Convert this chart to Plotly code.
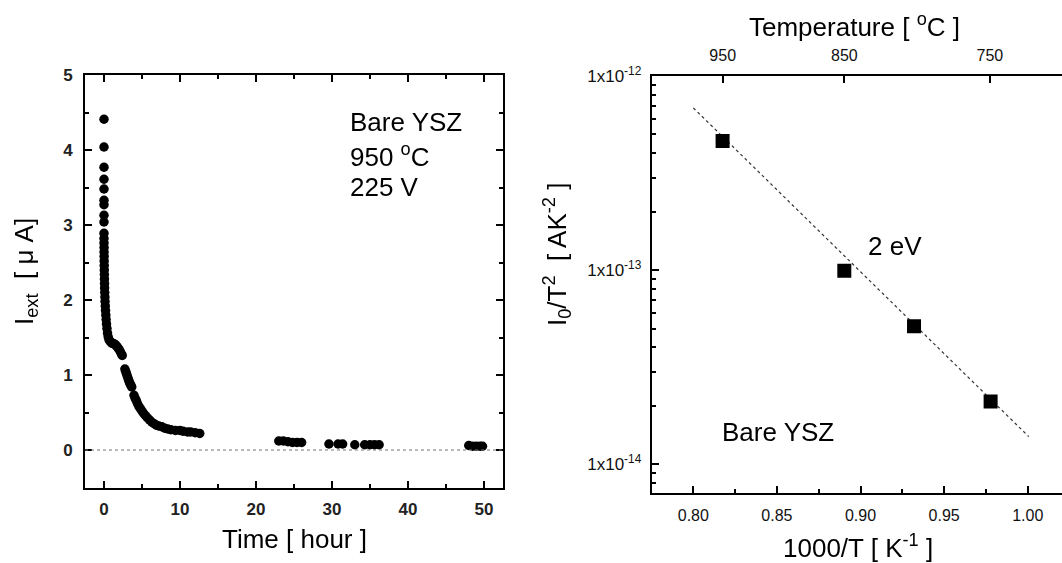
import plotly.graph_objects as go

# ---------------- Left panel data: I_ext vs time (950 C, 225 V) ----------------
time_h = [0, 0, 0, 0, 0, 0, 0, 0, 0, 0,
          0.00, 0.00, 0.01, 0.01, 0.02, 0.02, 0.03, 0.04, 0.05, 0.06, 0.07, 0.08, 0.10, 0.12,
          0.14, 0.17, 0.20, 0.24, 0.28, 0.33, 0.39, 0.46, 0.55, 0.66, 0.80, 0.95, 1.10, 1.25,
          1.40, 1.55, 1.70, 1.85, 2.00, 2.15, 2.30, 2.40,
          2.75, 2.85, 2.95, 3.05, 3.15, 3.25, 3.35, 3.45, 3.55, 3.65,
          3.95, 4.10, 4.25, 4.40, 4.60, 4.80, 5.00, 5.20, 5.45, 5.70, 6.00, 6.30, 6.60, 6.90,
          7.20, 7.60, 8.00, 8.40, 8.80, 9.40, 10.00, 10.40, 11.00, 11.40, 12.00, 12.60,
          23.0, 23.6, 24.2, 24.8, 25.4, 26.0,
          29.6, 30.8, 31.4, 33.0, 34.3, 35.0, 35.6, 36.2,
          48.0, 48.5, 49.0, 49.5, 49.8]
i_ext_uA = [4.41, 4.04, 3.77, 3.61, 3.48, 3.33, 3.27, 3.13, 3.04, 2.89,
            2.82, 2.76, 2.70, 2.64, 2.58, 2.52, 2.46, 2.40, 2.34, 2.28, 2.22, 2.16, 2.10, 2.04,
            1.98, 1.92, 1.86, 1.80, 1.74, 1.68, 1.62, 1.56, 1.51, 1.47, 1.45, 1.43, 1.42, 1.42,
            1.41, 1.40, 1.38, 1.36, 1.34, 1.31, 1.28, 1.26,
            1.08, 1.05, 1.02, 0.99, 0.96, 0.93, 0.90, 0.88, 0.86, 0.84,
            0.73, 0.69, 0.66, 0.62, 0.58, 0.55, 0.52, 0.49, 0.46, 0.43, 0.40, 0.37, 0.35, 0.33,
            0.32, 0.31, 0.29, 0.28, 0.27, 0.26, 0.26, 0.25, 0.24, 0.24, 0.23, 0.22,
            0.12, 0.12, 0.11, 0.10, 0.10, 0.10,
            0.08, 0.08, 0.08, 0.07, 0.07, 0.07, 0.07, 0.07,
            0.06, 0.05, 0.05, 0.05, 0.05]

# ---------------- Right panel data: Arrhenius plot ----------------
inv_T = [0.8175, 0.8903, 0.9320, 0.9778]          # 1000/T [1/K]
i0_over_T2 = [4.63e-13, 9.94e-14, 5.14e-14, 2.11e-14]  # [A K^-2]
fit_x = [0.800, 1.0006]
fit_y = [6.85e-13, 1.39e-14]
temp_ticks_C = [950, 850, 750]

W, H = 1062, 563
FONT = "Liberation Sans, Arial, sans-serif"


def px(x):
    return x / W


def py(y):
    return 1 - y / H


fig = go.Figure()

fig.add_trace(go.Scatter(x=time_h, y=i_ext_uA, mode="markers",
                         marker=dict(symbol="circle", size=9.5, color="black"),
                         xaxis="x", yaxis="y", showlegend=False))
fig.add_trace(go.Scatter(x=fit_x, y=fit_y, mode="lines",
                         line=dict(color="#333333", width=1.2, dash="dot"),
                         xaxis="x2", yaxis="y2", showlegend=False))
fig.add_trace(go.Scatter(x=inv_T, y=i0_over_T2, mode="markers",
                         marker=dict(symbol="square", size=14, color="black"),
                         xaxis="x2", yaxis="y2", showlegend=False))
# invisible trace so that the top temperature axis is rendered
fig.add_trace(go.Scatter(x=inv_T, y=i0_over_T2, mode="markers", opacity=0,
                         hoverinfo="skip", xaxis="x3", yaxis="y2", showlegend=False))

left_tick_font = dict(family=FONT, size=17, color="#222222", weight="bold")
right_tick_font = dict(family=FONT, size=16, color="#111111")

common = dict(showgrid=False, zeroline=False, showline=True, linecolor="black",
              linewidth=2, ticks="inside", ticklen=7, tickwidth=1.5, tickcolor="black",
              automargin=False)

xr_right = [0.7751, 1.0205]

fig.update_layout(
    width=W, height=H,
    margin=dict(l=0, r=0, t=0, b=0, pad=0, autoexpand=False),
    showlegend=False,
    paper_bgcolor="white", plot_bgcolor="white",
    font=dict(family=FONT, color="black"),
    xaxis=dict(domain=[px(85), px(503)], range=[-2.5, 52.5], anchor="y",
               tickmode="linear", tick0=0, dtick=10, mirror="allticks",
               minor=dict(dtick=5, ticks="inside", ticklen=4, tickwidth=1.5, tickcolor="black"),
               tickfont=left_tick_font, ticklabelstandoff=5, **common),
    yaxis=dict(domain=[py(487.5), py(75)], range=[-0.5, 5], anchor="x",
               tickmode="linear", tick0=0, dtick=1, mirror="allticks",
               minor=dict(dtick=0.5, ticks="inside", ticklen=4, tickwidth=1.5, tickcolor="black"),
               tickfont=left_tick_font, ticklabelstandoff=7, **common),
    xaxis2=dict(domain=[px(651.7), 1.0], range=xr_right, anchor="y2",
                tickmode="linear", tick0=0.8, dtick=0.05, tickformat=".2f",
                minor=dict(dtick=0.025, ticks="inside", ticklen=4, tickwidth=1.5, tickcolor="black"),
                tickfont=right_tick_font, ticklabelstandoff=7, **common),
    yaxis2=dict(domain=[py(492.5), py(76)], type="log", range=[-14.145, -12], anchor="x2",
                tickmode="array", tickvals=[1e-14, 1e-13, 1e-12],
                ticktext=["1x10<sup>-14</sup>", "1x10<sup>-13</sup>", "1x10<sup>-12</sup>"],
                minor=dict(tickmode="array",
                           tickvals=[k * 10.0 ** e for e in (-15, -14, -13) for k in range(2, 10)],
                           ticks="inside", ticklen=4, tickwidth=1.5, tickcolor="black"),
                tickfont=dict(family=FONT, size=17, color="#111111"), ticklabelstandoff=5,
                **common),
    xaxis3=dict(overlaying="x2", side="top", anchor="y2", range=xr_right,
                tickmode="array",
                tickvals=[1000.0 / (t + 273.15) for t in temp_ticks_C],
                ticktext=[str(t) for t in temp_ticks_C],
                tickfont=right_tick_font, ticklabelstandoff=7, **common),
)

# zero reference line in the left panel
fig.add_shape(type="line", xref="x domain", x0=0, x1=1, yref="y", y0=0, y1=0,
              line=dict(color="#777777", width=1.2, dash="dot"))

ann = []


def add(text, x, y, size=26, angle=0, xanchor="center"):
    ann.append(dict(text=text, x=px(x), y=py(y), xref="paper", yref="paper",
                    showarrow=False, textangle=angle, xanchor=xanchor, yanchor="middle",
                    font=dict(family=FONT, size=size, color="black")))


add("Time [ hour ]", 294, 539)
add("I<sub>ext</sub>  [ \u03bc A]", 25, 272, angle=-90)
add("Temperature [ <sup>o</sup>C ]", 854, 26)
add("I<sub>0</sub>/T<sup>2</sup>  [ AK<sup>-2</sup> ]", 557, 255, angle=-90)
add("1000/T [ K<sup>-1</sup> ]", 858, 546)
add("Bare YSZ", 348, 122, size=26, xanchor="left")
add("950 <sup>o</sup>C", 348, 155, size=26, xanchor="left")
add("225 V", 348, 187, size=26, xanchor="left")
add("2 eV", 895, 246, size=26)
add("Bare YSZ", 778, 432, size=26)

fig.update_layout(annotations=ann)

fig.write_html("out.html")
